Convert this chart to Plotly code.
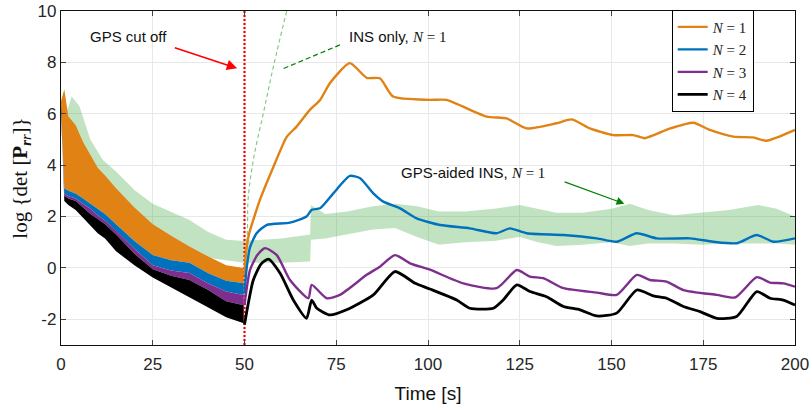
import plotly.graph_objects as go

# ---------------- data ----------------
GPS_CUTOFF = 50.0

# pre-cutoff oscillating envelopes (0..50 s)
t_pre = [0, 0.9, 2, 4, 6, 8, 10, 12, 15, 20, 25, 30, 35, 40, 45, 49.8]
n1_top = [6.5, 6.95, 5.9, 5.55, 4.9, 4.4, 3.9, 3.6, 3.1, 2.35, 1.7, 1.25, 0.83, 0.45, 0.1, 0.0]
n1_bot = [6.3, 3.1, 3.0, 2.9, 2.7, 2.5, 2.3, 2.1, 1.7, 1.05, 0.5, 0.3, 0.2, -0.2, -0.5, -0.6]
n2_bot = [6.2, 2.9, 2.8, 2.7, 2.5, 2.3, 2.05, 1.85, 1.45, 0.75, 0.1, -0.1, -0.2, -0.6, -0.92, -1.05]
n3_bot = [6.1, 2.8, 2.7, 2.6, 2.35, 2.1, 1.9, 1.7, 1.3, 0.55, -0.05, -0.3, -0.47, -0.85, -1.3, -1.45]
n4_bot = [6.3, 2.6, 2.45, 2.25, 1.95, 1.65, 1.35, 1.15, 0.65, 0.1, -0.37, -0.76, -1.15, -1.53, -1.92, -2.15]

# GPS-aided INS (N=1) oscillation envelope, whole run
t_aid = [0, 1.2, 2.9, 5, 8, 11.4, 15, 20, 25, 30, 35, 40, 45, 49.8, 55, 60, 67.9,
         68.1, 72, 78, 85, 91, 97, 103, 110, 118, 125, 130, 135, 142, 150, 155,
         160, 167, 175, 182, 190, 195, 200]
aid_top = [6.3, 5.9, 6.67, 6.3, 5.0, 4.2, 3.75, 3.03, 2.5, 2.19, 1.87, 1.41, 1.1, 1.05, 1.1, 1.15, 1.3,
           2.45, 2.1, 2.2, 2.4, 2.5, 2.4, 2.2, 2.2, 2.3, 2.45, 2.3, 2.15, 2.15, 2.3, 2.5,
           2.25, 2.05, 2.15, 2.25, 2.45, 2.3, 2.0]
aid_bot = [6.0, 4.0, 3.8, 3.5, 3.1, 2.8, 2.2, 1.6, 1.2, 0.9, 0.6, 0.4, 0.3, 0.2, 0.2, 0.2, 0.25,
           1.1, 1.15, 1.3, 1.5, 1.55, 1.2, 0.9, 1.0, 1.05, 1.2, 1.0, 0.85, 0.9, 1.0, 0.85,
           0.95, 0.95, 0.9, 0.95, 0.95, 0.95, 0.9]

# INS only, N=1
t_ins = [50.0, 50.3, 50.8, 51.0, 52.4, 55.1, 57.9, 61.5]
v_ins = [0.2, 0.3, 1.5, 2.7, 4.2, 6.0, 7.85, 10.0]

# post-cutoff curves
t_n1 = [50, 50.3, 51.2, 52.4, 54.2, 57.9, 61.5, 64.2, 67.8, 70.6, 73.3, 78.7, 83.3, 86.9,
        90.5, 100.5, 105, 116, 121.4, 126.9, 135, 139.2, 144.1, 150.5, 156, 159.1, 166,
        172.3, 176.8, 183.2, 188.6, 192.2, 200]
v_n1 = [-0.3, 0.45, 1.3, 1.87, 2.65, 3.94, 5.1, 5.5, 6.15, 6.54, 7.2, 7.97, 7.4, 7.38,
        6.67, 6.54, 6.54, 5.89, 5.82, 5.43, 5.63, 5.78, 5.43, 5.17, 5.17, 5.05, 5.43,
        5.65, 5.37, 5.11, 5.08, 4.95, 5.37]

t_n2 = [50, 50.6, 51.5, 53.3, 56, 62.4, 66.9, 68.3, 70.6, 74.2, 78.7, 81.5, 85.1, 87.8,
        92.4, 96.9, 103.3, 111.4, 118.7, 122.3, 126.9, 136.9, 146, 151.4, 156.9, 162.3,
        171.4, 177.7, 184.1, 189.6, 194.1, 200]
v_n2 = [-1.0, 0.0, 0.8, 1.35, 1.67, 1.76, 2.0, 2.26, 2.32, 2.9, 3.58, 3.49, 2.9, 2.58,
        2.32, 1.93, 1.67, 1.54, 1.35, 1.54, 1.35, 1.28, 1.15, 1.02, 1.35, 1.15,
        1.15, 1.02, 0.96, 1.28, 1.02, 1.15]

t_n3 = [50, 51.5, 53.5, 55.6, 58.8, 62.4, 67.4, 68.3, 72.4, 76, 83.3, 86.9, 91, 95.1,
        100.5, 109.6, 118.7, 124.2, 127.8, 131.4, 136.9, 146, 151.4, 156.9, 160.5, 165,
        169.6, 178.7, 183.7, 189.6, 193.2, 196.8, 200]
v_n3 = [-1.45, -0.08, 0.5, 0.77, 0.5, -0.47, -1.18, -0.66, -1.18, -1.05, -0.27, 0.05, 0.5, 0.18,
        -0.07, -0.6, -0.79, -0.08, -0.34, -0.4, -0.79, -0.96, -1.05, -0.27, -0.47, -0.53,
        -0.86, -1.05, -1.15, -0.36, -0.57, -0.6, -0.73]

t_n4 = [50, 52.4, 54.5, 56.5, 59.7, 63.3, 66.9, 68.3, 69.7, 73.3, 77.8, 85.1, 91, 96.5,
        100.5, 107.8, 111.4, 117.8, 120.5, 124.2, 127.8, 132.3, 136.9, 141.4, 146, 151.4,
        156.9, 161.4, 165, 169.6, 174.1, 178.7, 184.1, 189.6, 193.2, 196.8, 200]
v_n4 = [-2.2, -0.47, 0.15, 0.34, -0.21, -1.25, -1.96, -1.25, -1.57, -1.83, -1.63, -1.05, -0.14, -0.6,
        -0.82, -1.25, -1.57, -1.57, -1.25, -0.66, -0.92, -1.12, -1.5, -1.63, -1.87, -1.76,
        -0.86, -1.09, -1.18, -1.5, -1.7, -1.96, -1.89, -0.92, -1.18, -1.25, -1.44]

x_ticks = [0, 25, 50, 75, 100, 125, 150, 175, 200]
y_ticks = [-2, 0, 2, 4, 6, 8, 10]
y_tick_labels = ["-2", "0", "2", "4", "6", "8", "10"]

# ---------------- styles ----------------
C_ORANGE = "#E08214"
C_BLUE = "#0072BD"
C_PURPLE = "#7E2F8E"
C_BLACK = "#000000"
SANS = "Liberation Sans"
SERIF = "Liberation Serif"

fig = go.Figure()


def band(x, top, bot, color, name):
    fig.add_trace(go.Scatter(
        x=list(x) + list(x)[::-1], y=list(top) + list(bot)[::-1],
        fill="toself", fillcolor=color, mode="lines", line=dict(width=0, color=color),
        hoverinfo="skip", showlegend=False, name=name))


# GPS-aided INS band (thin green oscillation)
band(t_aid, aid_top, aid_bot, "rgba(70,170,70,0.33)", "aided")

# INS only dashed line
fig.add_trace(go.Scatter(x=t_ins, y=v_ins, mode="lines", showlegend=False,
                         line=dict(color="rgb(120,200,120)", width=1.1, dash="4px,3px"),
                         line_shape="spline", hoverinfo="skip"))

# thick oscillating bands before cut-off (each band's top is the band above's bottom)
band(t_pre, n1_top, n1_bot, C_ORANGE, "n1b")
band(t_pre, n1_bot, n2_bot, C_BLUE, "n2b")
band(t_pre, n2_bot, n3_bot, C_PURPLE, "n3b")
band(t_pre, n3_bot, n4_bot, C_BLACK, "n4b")

# cut-off marker
fig.add_trace(go.Scatter(x=[GPS_CUTOFF, GPS_CUTOFF], y=[-3, 10], mode="lines",
                         line=dict(color="red", width=2.2, dash="2px,2px"),
                         showlegend=False, hoverinfo="skip"))

# post cut-off curves
for tt, vv, col, w, nm in [(t_n1, v_n1, C_ORANGE, 2.4, "1"),
                           (t_n2, v_n2, C_BLUE, 2.4, "2"),
                           (t_n3, v_n3, C_PURPLE, 2.4, "3"),
                           (t_n4, v_n4, C_BLACK, 2.8, "4")]:
    fig.add_trace(go.Scatter(x=tt, y=vv, mode="lines", line=dict(color=col, width=w),
                             line_shape="spline", line_smoothing=0.6,
                             name="<i>N</i> = " + nm))

# green dashed arrow shaft for "INS only"
fig.add_trace(go.Scatter(x=[76.0, 60.6], y=[8.68, 7.76], mode="lines", showlegend=False,
                         line=dict(color="#008000", width=1.2, dash="5px,3px"), hoverinfo="skip"))

ann = [
    dict(x=18.3, y=9.0, text="GPS cut off", showarrow=False,
         font=dict(family=SANS, size=15, color="#111")),
    dict(x=91.6, y=9.0, showarrow=False,
         text="INS only, <span style='font-family:Liberation Serif'><i>N</i> = 1</span>",
         font=dict(family=SANS, size=15, color="#111")),
    dict(x=112.3, y=3.72, showarrow=False,
         text="GPS-aided INS, <span style='font-family:Liberation Serif'><i>N</i> = 1</span>",
         font=dict(family=SANS, size=15, color="#111")),
    # red arrow
    dict(x=48.0, y=7.77, ax=30.2, ay=8.61, axref="x", ayref="y", xref="x", yref="y",
         showarrow=True, arrowhead=2, arrowsize=1.3, arrowwidth=1.6, arrowcolor="red", text=" "),
    # green dashed arrow head
    dict(x=60.1, y=7.73, ax=61.5, ay=7.81, axref="x", ayref="y", xref="x", yref="y",
         showarrow=True, arrowhead=2, arrowsize=1.3, arrowwidth=1.6, arrowcolor="#008000", text=" "),
    # green solid arrow
    dict(x=153.5, y=2.5, ax=136.4, ay=3.39, axref="x", ayref="y", xref="x", yref="y",
         showarrow=True, arrowhead=2, arrowsize=1.3, arrowwidth=1.2, arrowcolor="#008000", text=" "),
]

fig.update_layout(
    width=812, height=410,
    margin=dict(l=61, r=17, t=11, b=65, autoexpand=False),
    plot_bgcolor="white", paper_bgcolor="white",
    annotations=ann,
    legend=dict(x=0.832, y=1.004, xanchor="left", yanchor="top",
                bgcolor="white", bordercolor="black", borderwidth=1,
                font=dict(family=SERIF, size=15, color="#222"),
                tracegroupgap=0, itemwidth=30),
    xaxis=dict(range=[0, 200], tickvals=x_ticks, showgrid=True, gridcolor="#e8e8e8",
               gridwidth=1, zeroline=False, showline=True, linecolor="#111", linewidth=1.3,
               mirror="ticks", ticks="inside", ticklen=5, tickcolor="#444", automargin=False,
               ticklabelstandoff=3, ticklabeloverflow="allow",
               tickfont=dict(family=SANS, size=17, color="#262626"),
               title=dict(text="Time [s]", font=dict(family=SANS, size=19, color="#111"),
                          standoff=14)),
    yaxis=dict(range=[-3, 10], tickvals=y_ticks, ticktext=y_tick_labels, showgrid=True,
               gridcolor="#e8e8e8", gridwidth=1, zeroline=False, showline=True,
               linecolor="#111", linewidth=1.3, mirror="ticks", ticks="inside", ticklen=5,
               tickcolor="#444", automargin=False, ticklabeloverflow="allow",
               tickfont=dict(family=SANS, size=17, color="#262626"),
               title=dict(text="log {det [<b>P</b><sub><b><i>r</i></b><i>r</i></sub>]}",
                          font=dict(family=SERIF, size=21, color="#111"), standoff=4)),
)

fig.write_html("out.html", config={"displayModeBar": False},
               post_script="document.body.style.margin='0';document.body.style.overflow='hidden';")
